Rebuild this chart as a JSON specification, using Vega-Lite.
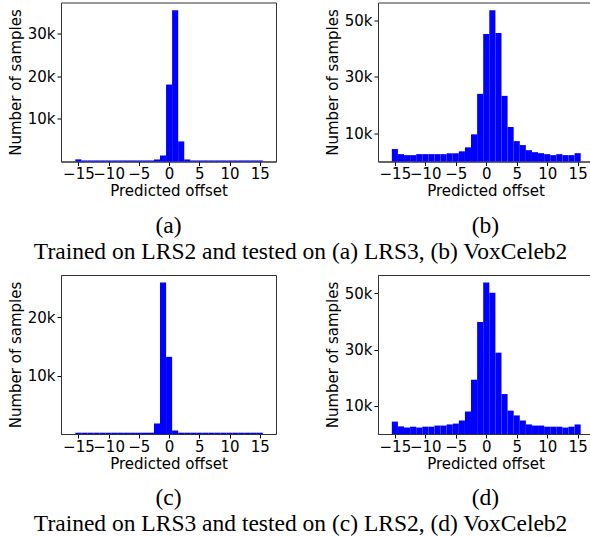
{
  "$schema": "https://vega.github.io/schema/vega-lite/v6.json",
  "padding": {"left": 7, "top": 1.5, "right": 0, "bottom": 0},
  "background": "white",
  "datasets": {
    "a": [
      {"offset": -15, "count": 500}, {"offset": -14, "count": 250}, {"offset": -13, "count": 250}, {"offset": -12, "count": 250},
      {"offset": -11, "count": 250}, {"offset": -10, "count": 250}, {"offset": -9, "count": 250}, {"offset": -8, "count": 250},
      {"offset": -7, "count": 250}, {"offset": -6, "count": 250}, {"offset": -5, "count": 250}, {"offset": -4, "count": 250},
      {"offset": -3, "count": 250}, {"offset": -2, "count": 480}, {"offset": -1, "count": 1400}, {"offset": 0, "count": 18000},
      {"offset": 1, "count": 35400}, {"offset": 2, "count": 4700}, {"offset": 3, "count": 480}, {"offset": 4, "count": 250},
      {"offset": 5, "count": 250}, {"offset": 6, "count": 250}, {"offset": 7, "count": 250}, {"offset": 8, "count": 250},
      {"offset": 9, "count": 250}, {"offset": 10, "count": 250}, {"offset": 11, "count": 250}, {"offset": 12, "count": 250},
      {"offset": 13, "count": 250}, {"offset": 14, "count": 250}, {"offset": 15, "count": 250}
    ],
    "b": [
      {"offset": -15, "count": 4400}, {"offset": -14, "count": 2600}, {"offset": -13, "count": 2250}, {"offset": -12, "count": 2250},
      {"offset": -11, "count": 2600}, {"offset": -10, "count": 2600}, {"offset": -9, "count": 2600}, {"offset": -8, "count": 2600},
      {"offset": -7, "count": 2600}, {"offset": -6, "count": 2900}, {"offset": -5, "count": 2900}, {"offset": -4, "count": 3600},
      {"offset": -3, "count": 5000}, {"offset": -2, "count": 9600}, {"offset": -1, "count": 23900}, {"offset": 0, "count": 45100},
      {"offset": 1, "count": 53500}, {"offset": 2, "count": 45400}, {"offset": 3, "count": 23200}, {"offset": 4, "count": 12200},
      {"offset": 5, "count": 7200}, {"offset": 6, "count": 5800}, {"offset": 7, "count": 4000}, {"offset": 8, "count": 3300},
      {"offset": 9, "count": 2950}, {"offset": 10, "count": 2600}, {"offset": 11, "count": 2250}, {"offset": 12, "count": 2600},
      {"offset": 13, "count": 2250}, {"offset": 14, "count": 2250}, {"offset": 15, "count": 2950}
    ],
    "c": [
      {"offset": -15, "count": 220}, {"offset": -14, "count": 220}, {"offset": -13, "count": 220}, {"offset": -12, "count": 220},
      {"offset": -11, "count": 220}, {"offset": -10, "count": 220}, {"offset": -9, "count": 220}, {"offset": -8, "count": 220},
      {"offset": -7, "count": 220}, {"offset": -6, "count": 220}, {"offset": -5, "count": 220}, {"offset": -4, "count": 220},
      {"offset": -3, "count": 220}, {"offset": -2, "count": 1800}, {"offset": -1, "count": 25900}, {"offset": 0, "count": 13200},
      {"offset": 1, "count": 600}, {"offset": 2, "count": 220}, {"offset": 3, "count": 220}, {"offset": 4, "count": 220},
      {"offset": 5, "count": 220}, {"offset": 6, "count": 220}, {"offset": 7, "count": 220}, {"offset": 8, "count": 220},
      {"offset": 9, "count": 220}, {"offset": 10, "count": 220}, {"offset": 11, "count": 220}, {"offset": 12, "count": 220},
      {"offset": 13, "count": 220}, {"offset": 14, "count": 220}, {"offset": 15, "count": 220}
    ],
    "d": [
      {"offset": -15, "count": 4400}, {"offset": -14, "count": 2700}, {"offset": -13, "count": 2300}, {"offset": -12, "count": 2600},
      {"offset": -11, "count": 2300}, {"offset": -10, "count": 2600}, {"offset": -9, "count": 2600}, {"offset": -8, "count": 3000},
      {"offset": -7, "count": 3000}, {"offset": -6, "count": 3400}, {"offset": -5, "count": 3700}, {"offset": -4, "count": 4800},
      {"offset": -3, "count": 8000}, {"offset": -2, "count": 19300}, {"offset": -1, "count": 39800}, {"offset": 0, "count": 53800},
      {"offset": 1, "count": 50200}, {"offset": 2, "count": 28900}, {"offset": 3, "count": 14200}, {"offset": 4, "count": 8300},
      {"offset": 5, "count": 6600}, {"offset": 6, "count": 4800}, {"offset": 7, "count": 3400}, {"offset": 8, "count": 3000},
      {"offset": 9, "count": 3000}, {"offset": 10, "count": 2600}, {"offset": 11, "count": 2600}, {"offset": 12, "count": 2600},
      {"offset": 13, "count": 2300}, {"offset": 14, "count": 2600}, {"offset": 15, "count": 3400}
    ]
  },
  "vconcat": [
    {
      "title": {"text": "Trained on LRS2 and tested on (a) LRS3, (b) VoxCeleb2", "offset": 2, "frame": "bounds"},
      "spacing": 47,
      "hconcat": [
        {
          "width": 215, "height": 159,
          "title": {"text": "(a)", "offset": 15},
          "data": {"name": "a"},
          "mark": {"type": "bar", "color": "#0000ff", "width": 6.1},
          "encoding": {
            "x": {"field": "offset", "type": "quantitative", "scale": {"domain": [-17.05, 16.85], "nice": false, "zero": false}, "axis": {"values": [-15, -10, -5, 0, 5, 10, 15], "labelExpr": "(datum.value < 0 ? '\u2212' : '') + abs(datum.value)", "title": "Predicted offset"}},
            "y": {"field": "count", "type": "quantitative", "scale": {"domain": [0, 37200], "nice": false}, "axis": {"values": [10000, 20000, 30000], "labelExpr": "format(datum.value/1000, 'd') + 'k'", "title": "Number of samples"}}
          }
        },
        {
          "width": 215, "height": 159,
          "title": {"text": "(b)", "offset": 15},
          "data": {"name": "b"},
          "mark": {"type": "bar", "color": "#0000ff", "width": 6.1},
          "encoding": {
            "x": {"field": "offset", "type": "quantitative", "scale": {"domain": [-16.95, 16.7], "nice": false, "zero": false}, "axis": {"values": [-15, -10, -5, 0, 5, 10, 15], "labelExpr": "(datum.value < 0 ? '\u2212' : '') + abs(datum.value)", "title": "Predicted offset"}},
            "y": {"field": "count", "type": "quantitative", "scale": {"domain": [0, 56200], "nice": false}, "axis": {"values": [10000, 30000, 50000], "labelExpr": "format(datum.value/1000, 'd') + 'k'", "title": "Number of samples"}}
          }
        }
      ]
    },
    {
      "title": {"text": "Trained on LRS3 and tested on (c) LRS2, (d) VoxCeleb2", "offset": 2, "frame": "bounds"},
      "spacing": 47,
      "hconcat": [
        {
          "width": 215, "height": 159,
          "title": {"text": "(c)", "offset": 15},
          "data": {"name": "c"},
          "mark": {"type": "bar", "color": "#0000ff", "width": 6.1},
          "encoding": {
            "x": {"field": "offset", "type": "quantitative", "scale": {"domain": [-17.05, 16.85], "nice": false, "zero": false}, "axis": {"values": [-15, -10, -5, 0, 5, 10, 15], "labelExpr": "(datum.value < 0 ? '\u2212' : '') + abs(datum.value)", "title": "Predicted offset"}},
            "y": {"field": "count", "type": "quantitative", "scale": {"domain": [0, 27200], "nice": false}, "axis": {"values": [10000, 20000], "labelExpr": "format(datum.value/1000, 'd') + 'k'", "title": "Number of samples"}}
          }
        },
        {
          "width": 215, "height": 159,
          "title": {"text": "(d)", "offset": 15},
          "data": {"name": "d"},
          "mark": {"type": "bar", "color": "#0000ff", "width": 6.1},
          "encoding": {
            "x": {"field": "offset", "type": "quantitative", "scale": {"domain": [-16.95, 16.7], "nice": false, "zero": false}, "axis": {"values": [-15, -10, -5, 0, 5, 10, 15], "labelExpr": "(datum.value < 0 ? '\u2212' : '') + abs(datum.value)", "title": "Predicted offset"}},
            "y": {"field": "count", "type": "quantitative", "scale": {"domain": [0, 56500], "nice": false}, "axis": {"values": [10000, 30000, 50000], "labelExpr": "format(datum.value/1000, 'd') + 'k'", "title": "Number of samples"}}
          }
        }
      ]
    }
  ],
  "spacing": 10.5,
  "config": {
    "view": {"stroke": "#333", "strokeWidth": 1},
    "axis": {
      "labelFont": "DejaVu Sans", "labelFontSize": 15, "labelColor": "black",
      "titleFont": "DejaVu Sans", "titleFontSize": 15, "titleFontWeight": "normal", "titleColor": "black",
      "tickColor": "black", "tickSize": 4, "domainColor": "#333", "grid": false,
      "labelOverlap": false, "labelBound": false, "labelFlush": false
    },
    "axisX": {"labelPadding": 1, "titlePadding": 2},
    "axisY": {"labelPadding": 2, "titlePadding": 4},
    "title": {"font": "Liberation Serif", "fontSize": 23.5, "fontWeight": "normal", "color": "black", "orient": "bottom", "anchor": "middle", "frame": "group"}
  }
}
